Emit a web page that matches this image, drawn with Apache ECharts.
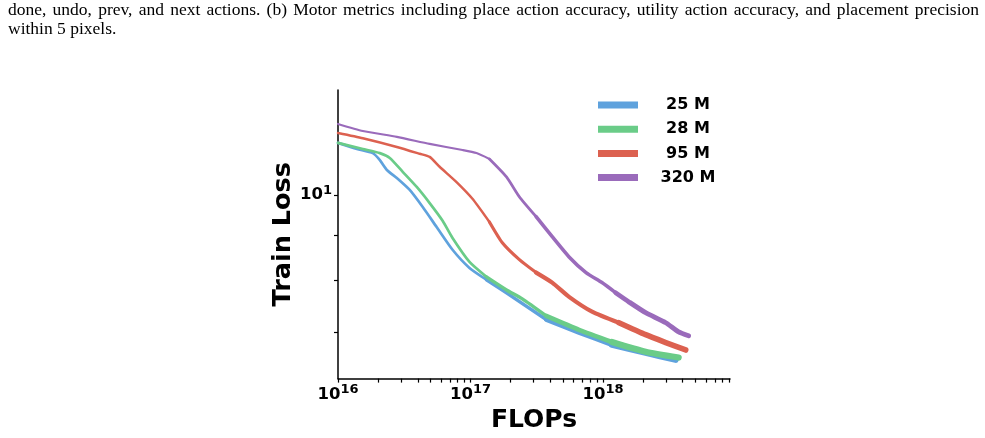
<!DOCTYPE html>
<html>
<head>
<meta charset="utf-8">
<script src="https://cdn.jsdelivr.net/npm/echarts@6/dist/echarts.min.js"></script>
<style>
  html, body { margin: 0; padding: 0; background: #fff; }
  #chart { width: 985px; height: 438px; }
</style>
</head>
<body>
<div id="chart"></div>
<script>
// values (FLOPs vs train loss, log-log)
const names = ['25 M', '28 M', '95 M', '320 M'];
const colors = ['#5fa2dd', '#6acc88', '#dc6150', '#9a6bbb'];

const flops25 = [1e16, 1.39e16, 1.83e16, 2.07e16, 2.34e16, 2.78e16, 3.48e16, 4.36e16, 5.55e16, 7.32e16, 9.83e16, 1.32e17, 1.87e17, 3.73e17, 6.6e17, 1.17e18, 2.1e18, 3.54e18];
const loss25 = [11.45, 11.27, 11.15, 10.95, 10.67, 10.45, 10.13, 9.69, 9.2, 8.67, 8.27, 8.02, 7.75, 7.23, 6.99, 6.77, 6.63, 6.51];

const flops28 = [1e16, 1.54e16, 2.07e16, 2.46e16, 3.08e16, 3.93e16, 4.92e16, 6.16e16, 7.32e16, 9.83e16, 1.32e17, 1.87e17, 2.46e17, 3.73e17, 6.6e17, 1.17e18, 2.1e18, 3.73e18];
const loss28 = [11.45, 11.27, 11.15, 11.01, 10.62, 10.21, 9.79, 9.35, 8.94, 8.4, 8.08, 7.81, 7.63, 7.3, 7.04, 6.82, 6.65, 6.55];

const flops95 = [1e16, 1.54e16, 2.78e16, 4.14e16, 4.92e16, 5.85e16, 7.85e16, 1.035e17, 1.39e17, 1.74e17, 2.34e17, 3.13e17, 4.14e17, 5.55e17, 8.27e17, 1.32e18, 2.1e18, 2.98e18, 4.21e18];
const loss95 = [11.75, 11.59, 11.33, 11.13, 11.04, 10.76, 10.34, 9.9, 9.32, 8.83, 8.45, 8.17, 7.96, 7.67, 7.38, 7.17, 6.95, 6.81, 6.68];

const flops320 = [1e16, 1.54e16, 2.78e16, 4.92e16, 8.71e16, 1.11e17, 1.39e17, 1.87e17, 2.34e17, 3.13e17, 4.14e17, 5.55e17, 7.45e17, 9.83e17, 1.25e18, 1.57e18, 2.1e18, 2.98e18, 3.73e18, 4.43e18];
const loss320 = [12.03, 11.81, 11.63, 11.42, 11.24, 11.15, 10.98, 10.48, 9.95, 9.45, 8.97, 8.51, 8.17, 7.96, 7.75, 7.57, 7.36, 7.17, 7.0, 6.93];

const xDecades = [1e16, 1e17, 1e18];
const xExponents = ['16', '17', '18'];
const minorMultiples = [2, 3, 4, 5, 6, 7, 8, 9];
const yTicks = [7, 8, 9, 10];
const yLabelTicks = [10];

const xMin = 1e16, xMax = 9.1e18;
const yMin = 6.2, yMax = 13.14;

// the noise band gets wider late in training; drawn as segments of growing width
const segmentBreaks = [1.2e17, 3e17, 1e18];
const segmentWidths = [2.7, 3.5, 4.6, 6.2];
const widthScale = [1, 1, 0.92, 0.78];

const captionLine1 = 'done, undo, prev, and next actions. (b) Motor metrics including place action accuracy, utility action accuracy, and placement precision';
const captionLine2 = 'within 5 pixels.';

const xTicks = [];
xDecades.forEach(d => {
  xTicks.push(d);
  minorMultiples.forEach(m => { if (d * m <= xMax) xTicks.push(d * m); });
});

function pairs(xs, ys) {
  return xs.map((x, i) => [x, ys[i]]);
}

const seriesData = [pairs(flops25, loss25), pairs(flops28, loss28), pairs(flops95, loss95), pairs(flops320, loss320)];

// split a series at the break points, sharing the boundary point
function segments(data) {
  const out = [];
  let start = 0;
  segmentBreaks.forEach(b => {
    let end = data.findIndex(p => p[0] >= b);
    if (end < 0) end = data.length - 1;
    out.push(data.slice(start, end + 1));
    start = end;
  });
  out.push(data.slice(start));
  return out;
}

const series = [];
names.forEach((n, i) => {
  segments(seriesData[i]).forEach((seg, k) => {
    series.push({
      name: n,
      type: 'line',
      data: seg,
      showSymbol: false,
      symbol: 'none',
      smooth: 0.2,
      lineStyle: { width: segmentWidths[k] * widthScale[i], color: colors[i], cap: 'round', join: 'round' },
      z: 2 + i
    });
  });
});

// justified first caption line, as in the paper
const ctx = document.createElement('canvas').getContext('2d');
const capSize = 17.5;
ctx.font = capSize + 'px "Liberation Serif"';
const words = captionLine1.split(' ');
const wordW = words.map(w => ctx.measureText(w).width);
const wordGap = (979 - 8 - wordW.reduce((a, b) => a + b, 0)) / (words.length - 1);
const graphics = [];
let cx = 8;
words.forEach((w, i) => {
  graphics.push({ type: 'text', left: cx, top: 1, style: { text: w, fontFamily: 'Liberation Serif', fontSize: capSize, fill: '#000' } });
  cx += wordW[i] + wordGap;
});
graphics.push({ type: 'text', left: 8, top: 20, style: { text: captionLine2, fontFamily: 'Liberation Serif', fontSize: capSize, fill: '#000' } });

const chart = echarts.init(document.getElementById('chart'));

const font = 'DejaVu Sans';
const richLabel = {
  b: { fontFamily: font, fontWeight: 'bold', fontSize: 16.5, color: '#000' },
  s: { fontFamily: font, fontWeight: 'bold', fontSize: 13, color: '#000', padding: [0, 0, 9, 0] }
};

const option = {
  backgroundColor: '#ffffff',
  animation: false,
  color: colors,
  grid: { left: 338, top: 90, width: 392, height: 289, containLabel: false },
  legend: {
    data: names,
    orient: 'vertical',
    left: 598,
    top: 97,
    padding: 0,
    icon: 'rect',
    itemWidth: 40,
    itemHeight: 7,
    itemGap: 8.2,
    lineStyle: { width: 7, cap: 'butt' },
    selectedMode: false,
    formatter: name => '{c|' + name + '}',
    textStyle: {
      rich: {
        c: { width: 90, align: 'center', fontFamily: font, fontWeight: 'bold', fontSize: 16, lineHeight: 18, color: '#000' }
      }
    }
  },
  xAxis: {
    type: 'log',
    min: xMin,
    max: xMax,
    name: 'FLOPs',
    nameLocation: 'middle',
    nameGap: 26,
    nameTextStyle: { fontFamily: font, fontWeight: 'bold', fontSize: 25, color: '#000', verticalAlign: 'top' },
    axisLine: { show: true, lineStyle: { color: '#000', width: 1.5 } },
    axisTick: { show: true, inside: false, length: 4, lineStyle: { color: '#000', width: 1.2 }, customValues: xTicks },
    minorTick: { show: false },
    splitLine: { show: false },
    axisLabel: {
      customValues: xDecades,
      margin: 5,
      formatter: v => {
        const i = xDecades.findIndex(d => Math.abs(Math.log10(d) - Math.log10(v)) < 1e-6);
        return '{b|10}{s|' + (i >= 0 ? xExponents[i] : '') + '}';
      },
      rich: richLabel
    }
  },
  yAxis: {
    type: 'log',
    min: yMin,
    max: yMax,
    name: 'Train Loss',
    nameLocation: 'middle',
    nameGap: 42,
    nameRotate: 90,
    nameTextStyle: { fontFamily: font, fontWeight: 'bold', fontSize: 25.5, color: '#000' },
    axisLine: { show: true, lineStyle: { color: '#000', width: 1.5 } },
    axisTick: { show: true, inside: false, length: 4, lineStyle: { color: '#000', width: 1.2 }, customValues: yTicks },
    minorTick: { show: false },
    splitLine: { show: false },
    axisLabel: {
      customValues: yLabelTicks,
      margin: 6,
      formatter: () => '{b|10}{s|1}',
      rich: richLabel
    }
  },
  graphic: graphics,
  series: series
};

chart.setOption(option);
</script>
</body>
</html>
